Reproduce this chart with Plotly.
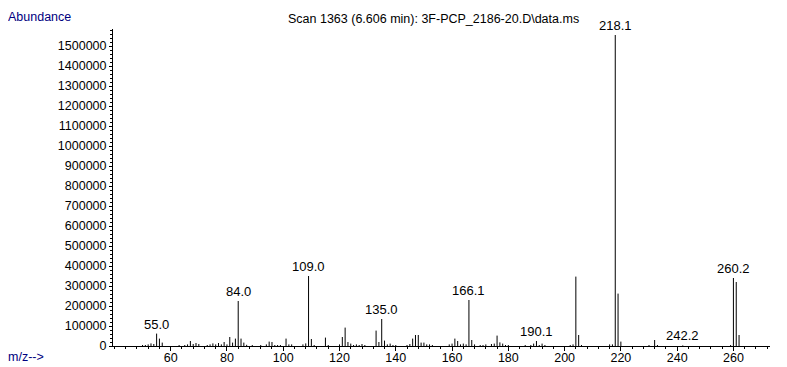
import plotly.graph_objects as go

# m/z values and abundances
mz = [50, 51, 52, 53, 54, 55, 56, 57, 63, 65, 66, 67, 68, 69, 70, 73, 74, 75, 76, 77,
      78, 79, 80, 81, 82, 83, 84, 85, 86, 87, 89, 92, 94, 95, 96, 97, 98, 99, 101, 102,
      103, 107, 108, 109, 110, 111, 115, 116, 120, 121, 122, 123, 124, 125, 126, 127, 128, 129,
      133, 134, 135, 136, 137, 138, 139, 140, 144, 145, 146, 147, 148, 149, 150, 151, 152, 153,
      159, 160, 161, 162, 163, 164, 165, 166, 167, 168, 170, 171, 172, 174, 175, 176, 177, 178,
      179, 180, 186, 188, 189, 190, 191, 192, 193, 202, 203, 204, 205, 206, 216, 217, 218, 219,
      220, 230, 232, 233, 242, 259, 260, 261, 262]
abundance = [5000, 5000, 8000, 13000, 10000, 62000, 37000, 17000, 5000, 5000, 8000, 25000, 10000, 15000, 10000, 5000, 8000, 13000, 8000, 15000,
             8000, 20000, 8000, 45000, 17000, 37000, 225000, 37000, 17000, 6000, 5000, 5000, 8000, 22000, 20000, 5000, 5000, 5000, 37000, 8000,
             8000, 8000, 13000, 350000, 35000, 5000, 42000, 5000, 8000, 45000, 92000, 20000, 12000, 5000, 8000, 5000, 10000, 5000,
             77000, 20000, 135000, 27000, 8000, 12000, 5000, 5000, 5000, 10000, 37000, 55000, 55000, 17000, 17000, 8000, 8000, 5000,
             8000, 12000, 37000, 25000, 8000, 12000, 8000, 230000, 30000, 8000, 5000, 5000, 8000, 10000, 12000, 52000, 18000, 12000,
             5000, 5000, 5000, 5000, 12000, 25000, 5000, 12000, 5000, 5000, 8000, 347000, 55000, 5000, 8000, 8000, 1555000, 262000,
             22000, 5000, 30000, 5000, 3000, 5000, 340000, 320000, 55000]

# labelled peaks
label_mz = [55, 84, 109, 135, 166, 190, 218, 242, 260]
label_text = ["55.0", "84.0", "109.0", "135.0", "166.1", "190.1", "218.1", "242.2", "260.2"]

y_ticks = list(range(0, 1600001, 100000))
x_ticks = [60, 80, 100, 120, 140, 160, 180, 200, 220, 240, 260]

xs, ys = [], []
for m, a in zip(mz, abundance):
    xs += [m, m, None]
    ys += [0, a, None]

fig = go.Figure()
fig.add_trace(go.Scatter(x=xs, y=ys, mode="lines",
                         line=dict(color="black", width=1),
                         hoverinfo="skip", showlegend=False))

ab = dict(zip(mz, abundance))
for m, t in zip(label_mz, label_text):
    fig.add_annotation(x=m, y=ab[m], text=t, showarrow=False,
                       xanchor="center", yanchor="bottom", yshift=0,
                       font=dict(family="Arial", size=13, color="black"))

L, R, T, B = 105, 17, 21, 21
W, H = 779, 359
pw = W - L - R

fig.add_annotation(xref="paper", yref="paper", x=0.5, y=1, text="Scan 1363 (6.606 min): 3F-PCP_2186-20.D\\data.ms",
                   showarrow=False, font=dict(family="Arial", size=12.5, color="black"),
                   xanchor="center", yanchor="middle", yshift=10, xshift=-8)
fig.add_annotation(xref="paper", yref="paper", x=-L / pw, y=1, text="Abundance",
                   showarrow=False, font=dict(family="Arial", size=12.5, color="#000080"),
                   xanchor="left", yanchor="top", yshift=T, xshift=-2)
fig.add_annotation(xref="paper", yref="paper", x=-L / pw, y=0, text="m/z-->",
                   showarrow=False, font=dict(family="Arial", size=12.5, color="#000080"),
                   xanchor="left", yanchor="middle", yshift=-11, xshift=-2)

fig.update_layout(
    width=W, height=H,
    margin=dict(l=L, r=R, t=T, b=B, autoexpand=False),
    paper_bgcolor="white", plot_bgcolor="white",
    font=dict(family="Arial", size=12, color="black"),
    showlegend=False,
)
fig.update_xaxes(range=[39.5, 273], tickvals=x_ticks, ticktext=[str(v) for v in x_ticks],
                 automargin=False,
                 showgrid=False, zeroline=False, showline=True, linecolor="black", linewidth=1,
                 ticks="outside", ticklen=4, tickcolor="black",
                 ticklabelstandoff=-4,
                 minor=dict(dtick=4, tick0=0, ticks="outside", ticklen=2, tickcolor="black"),
                 tickfont=dict(size=12.5))
fig.update_yaxes(range=[0, 1585000], tickvals=y_ticks, ticktext=[str(v) for v in y_ticks],
                 automargin=False,
                 showgrid=False, zeroline=False, showline=True, linecolor="black", linewidth=1,
                 ticks="outside", ticklen=3, tickcolor="black",
                 minor=dict(dtick=20000, ticks="outside", ticklen=2, tickcolor="black"),
                 tickfont=dict(size=12.5))

fig.write_html("out.html")
